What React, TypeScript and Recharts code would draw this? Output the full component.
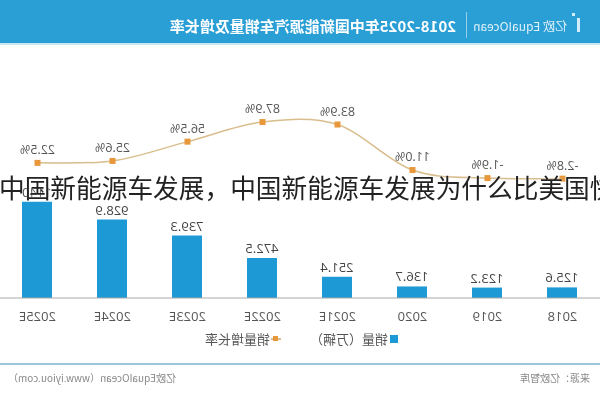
import React from 'react';
import { ComposedChart, Bar, Line, XAxis, YAxis, LabelList } from 'recharts';

const years = ['2018', '2019', '2020', '2021E', '2022E', '2023E', '2024E', '2025E'];
const sales = [125.6, 123.2, 136.7, 251.4, 472.5, 739.3, 928.9, 1140];
const growth = [-2.8, -1.9, 11.0, 83.9, 87.9, 56.5, 25.6, 22.5];

const data = years.map((year, i) => ({ year, sales: sales[i], growth: growth[i] }));

const FONT = '"Noto Sans CJK SC", "Open Sans", sans-serif';

// catmull-rom style smoothing, close to the excel "smoothed line"
const smoothCurve = (context: any) => {
    let pts: number[][] = [];
    return {
        areaStart() {},
        areaEnd() {},
        lineStart() {
            pts = [];
        },
        point(x: number, y: number) {
            pts.push([+x, +y]);
        },
        lineEnd() {
            if (!pts.length) return;
            context.moveTo(pts[0][0], pts[0][1]);
            for (let i = 0; i < pts.length - 1; i++) {
                const p0 = pts[i - 1] || pts[i];
                const p1 = pts[i];
                const p2 = pts[i + 1];
                const p3 = pts[i + 2] || pts[i + 1];
                context.bezierCurveTo(
                    p1[0] + (p2[0] - p0[0]) / 6,
                    p1[1] + (p2[1] - p0[1]) / 6,
                    p2[0] - (p3[0] - p1[0]) / 6,
                    p2[1] - (p3[1] - p1[1]) / 6,
                    p2[0],
                    p2[1]
                );
            }
        },
    };
};

const SquareDot = (props: any) => {
    const { cx, cy } = props;
    if (cx == null || cy == null) return null;
    return <rect x={cx - 3} y={cy - 3} width={6} height={6} fill="#e8973b" />;
};

export default function App() {
    return (
        <div style={{ position: 'absolute', left: 0, top: 0, width: 600, height: 404, background: '#fff', overflow: 'hidden' }}>
            {/* the reference is a mirrored screenshot */}
            <div style={{ position: 'absolute', left: 0, top: 0, width: 600, height: 404, transform: 'scaleX(-1)', fontFamily: FONT }}>
                <div style={{ position: 'absolute', left: 0, top: 0, width: 600, height: 43, background: '#2a9fd6' }} />
                <div style={{ position: 'absolute', left: 0, top: 43, width: 600, height: 2, background: '#c9e6f3' }} />
                <div style={{ position: 'absolute', left: 20, top: 18, width: 3, height: 14, background: 'rgba(255,255,255,0.8)' }} />
                <div style={{ position: 'absolute', left: 25, top: 13, width: 3, height: 3, background: 'rgba(255,255,255,0.8)' }} />
                <div style={{ position: 'absolute', left: 33, top: 18, fontSize: 12, lineHeight: '16px', color: 'rgba(255,255,255,0.85)' }}>
                    亿欧 EquaIOcean
                </div>
                <div style={{ position: 'absolute', left: 133, top: 12, width: 1, height: 26, background: 'rgba(255,255,255,0.5)' }} />
                <div style={{ position: 'absolute', left: 144, top: 16, fontSize: 15, lineHeight: '20px', fontWeight: 700, color: '#fff', whiteSpace: 'nowrap' }}>
                    2018-2025年中国新能源汽车销量及增长率
                </div>

                <div style={{ position: 'absolute', left: 0, top: 0 }}>
                    <ComposedChart width={600} height={330} data={data} margin={{ top: 60, right: 0, left: 0, bottom: 2 }} barSize={30}>
                        <XAxis
                            dataKey="year"
                            interval={0}
                            tickLine={false}
                            axisLine={{ stroke: '#a8a8a8' }}
                            tickMargin={8}
                            tick={{ fill: '#555', fontSize: 13, fontFamily: '"Open Sans", sans-serif' }}
                        />
                        <YAxis yAxisId="sales" hide domain={[0, 2817]} />
                        <YAxis yAxisId="growth" hide domain={[-194, 187.3]} />
                        <Bar yAxisId="sales" dataKey="sales" fill="#1d9ad6" isAnimationActive={false}>
                            <LabelList
                                dataKey="sales"
                                position="top"
                                offset={5}
                                fill="#444"
                                fontSize={13}
                                fontFamily='"Open Sans", sans-serif'
                            />
                        </Bar>
                        <Line
                            yAxisId="growth"
                            dataKey="growth"
                            type={smoothCurve as any}
                            stroke="#d9bd8c"
                            strokeWidth={1.5}
                            dot={<SquareDot />}
                            activeDot={false}
                            isAnimationActive={false}
                        >
                            <LabelList
                                dataKey="growth"
                                position="top"
                                offset={9}
                                fill="#555"
                                fontSize={12.5}
                                fontFamily='"Open Sans", sans-serif'
                                formatter={(v: any) => `${Number(v).toFixed(1)}%`}
                            />
                        </Line>
                    </ComposedChart>
                </div>

                <div style={{ position: 'absolute', left: 202, top: 335, width: 8, height: 8, background: '#1d9ad6' }} />
                <div style={{ position: 'absolute', left: 212, top: 330, fontSize: 13, lineHeight: '18px', color: '#555', whiteSpace: 'nowrap' }}>
                    销量（万辆）
                </div>
                <div style={{ position: 'absolute', left: 319, top: 338, width: 10, height: 1.5, background: '#d9bd8c' }} />
                <div style={{ position: 'absolute', left: 322, top: 336, width: 5, height: 5, background: '#e8973b' }} />
                <div style={{ position: 'absolute', left: 330, top: 330, fontSize: 13, lineHeight: '18px', color: '#555', whiteSpace: 'nowrap' }}>
                    销量增长率
                </div>

                <div style={{ position: 'absolute', left: 0, top: 363, width: 600, height: 1.5, background: '#9cc7d8' }} />
                <div style={{ position: 'absolute', left: 10, top: 371, fontSize: 10, lineHeight: '14px', color: '#888', whiteSpace: 'nowrap' }}>
                    来源：亿欧智库
                </div>
                <div style={{ position: 'absolute', right: 8, top: 371, fontSize: 10, lineHeight: '14px', color: '#888', whiteSpace: 'nowrap' }}>
                    亿欧EquaIOcean（www.iyiou.com）
                </div>
            </div>

            <div
                style={{
                    position: 'absolute',
                    left: -1,
                    top: 172,
                    fontFamily: '"Noto Sans CJK SC", sans-serif',
                    fontSize: 25.7,
                    lineHeight: '30px',
                    color: '#222',
                    whiteSpace: 'nowrap',
                    textShadow: '0 0 2px #fff',
                }}
            >
                中国新能源车发展，中国新能源车发展为什么比美国快
            </div>
        </div>
    );
}
